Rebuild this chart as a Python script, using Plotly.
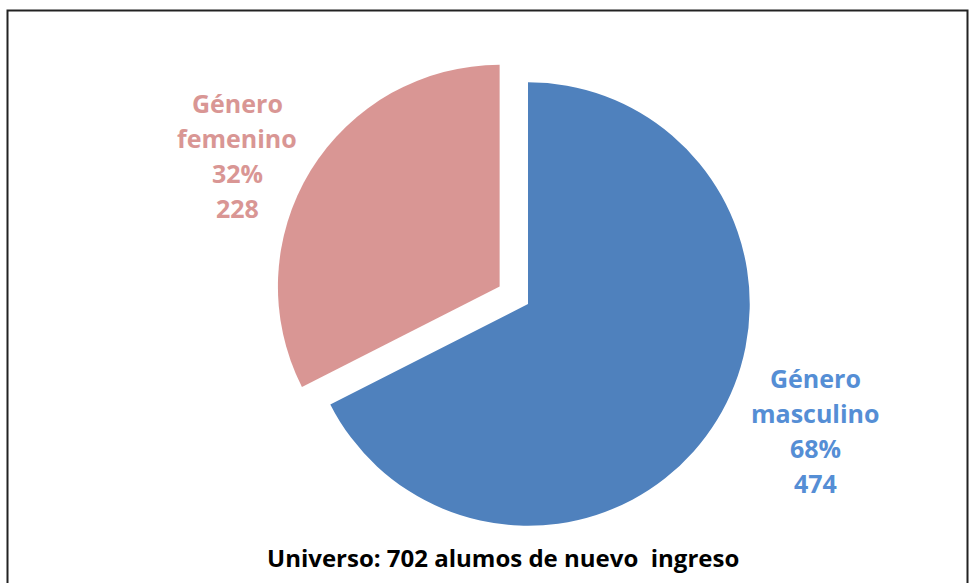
import plotly.graph_objects as go

# datos
categorias = ["Género masculino", "Género femenino"]
alumnos = [474, 228]
porcentajes = ["68%", "32%"]
colores = ["#4F81BD", "#D99694"]
colores_texto = ["#558ED5", "#D99694"]
titulo = "Universo: 702 alumos de nuevo&nbsp; ingreso"

W, H = 975, 583
FONT = "Open Sans, Noto Sans, sans-serif"

fig = go.Figure()

fig.add_trace(go.Pie(
    labels=categorias,
    values=alumnos,
    marker=dict(colors=colores, line=dict(width=0)),
    pull=[0, 0.15],
    sort=False,
    direction="clockwise",
    rotation=0,
    textinfo="none",
    hoverinfo="label+value+percent",
    showlegend=False,
    domain=dict(x=[(528 - 255) / W, (528 + 255) / W],
                y=[1 - (304 + 255) / H, 1 - (304 - 255) / H]),
))

# etiquetas de cada sector, una anotación por línea
posiciones = [(815, 378), (237, 103)]
interlineado = 35
anotaciones = []
for cat, val, pct, col, (px, py) in zip(categorias, alumnos, porcentajes, colores_texto, posiciones):
    lineas = cat.split(" ") + [pct, str(val)]
    for i, linea in enumerate(lineas):
        anotaciones.append(dict(
            x=px / W, y=1 - (py + i * interlineado) / H, xref="paper", yref="paper",
            xanchor="center", yanchor="middle", showarrow=False,
            text=f"<b>{linea}</b>",
            font=dict(size=25, color=col, family=FONT),
        ))

anotaciones.append(dict(
    x=503 / W, y=1 - 557 / H, xref="paper", yref="paper",
    xanchor="center", yanchor="middle", showarrow=False,
    text=f"<b>{titulo}</b>",
    font=dict(size=24, color="#000000", family=FONT),
))

fig.update_layout(
    width=W, height=H,
    margin=dict(l=0, r=0, t=0, b=0),
    paper_bgcolor="white",
    plot_bgcolor="white",
    annotations=anotaciones,
    shapes=[dict(type="rect", xref="paper", yref="paper",
                 x0=7.5 / W, x1=967.5 / W, y0=-0.02, y1=1 - 10.5 / H,
                 line=dict(color="#222222", width=2), fillcolor="rgba(0,0,0,0)")],
)

fig.write_html("out.html", config={"displayModeBar": False},
               post_script="document.body.style.margin='0';")
